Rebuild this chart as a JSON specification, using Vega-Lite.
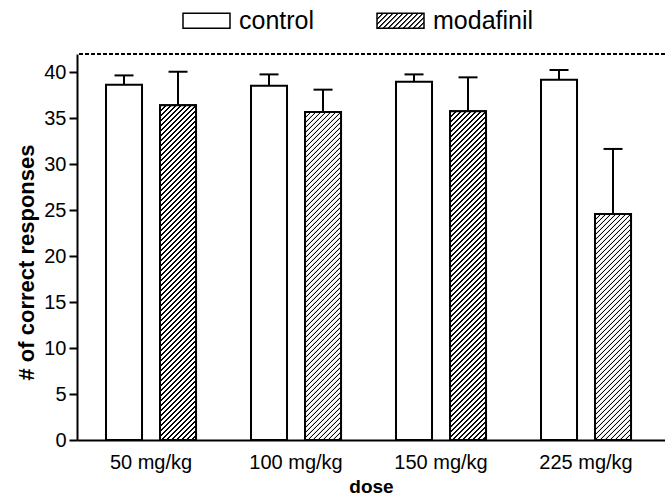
{
  "$schema": "https://vega.github.io/schema/vega-lite/v6.json",
  "width": 588,
  "height": 386,
  "autosize": {"type": "none"},
  "padding": {"left": 77, "top": 54, "right": 0, "bottom": 57},
  "config": {
    "view": {"stroke": null},
    "font": "Liberation Sans",
    "axis": {"labelColor": "black", "titleColor": "black", "domainColor": "black", "tickColor": "black", "grid": false}
  },
  "params": [
    {"name": "hatchStops", "value": [
      {"offset":0,"color":"#fff"},{"offset":0.001,"color":"#000"},{"offset":0.0032,"color":"#000"},{"offset":0.0042,"color":"#fff"},
      {"offset":0.01,"color":"#fff"},{"offset":0.011,"color":"#000"},{"offset":0.0132,"color":"#000"},{"offset":0.0142,"color":"#fff"},
      {"offset":0.02,"color":"#fff"},{"offset":0.021,"color":"#000"},{"offset":0.0232,"color":"#000"},{"offset":0.0242,"color":"#fff"},
      {"offset":0.03,"color":"#fff"},{"offset":0.031,"color":"#000"},{"offset":0.0332,"color":"#000"},{"offset":0.0342,"color":"#fff"},
      {"offset":0.04,"color":"#fff"},{"offset":0.041,"color":"#000"},{"offset":0.0432,"color":"#000"},{"offset":0.0442,"color":"#fff"},
      {"offset":0.05,"color":"#fff"},{"offset":0.051,"color":"#000"},{"offset":0.0532,"color":"#000"},{"offset":0.0542,"color":"#fff"},
      {"offset":0.06,"color":"#fff"},{"offset":0.061,"color":"#000"},{"offset":0.0632,"color":"#000"},{"offset":0.0642,"color":"#fff"},
      {"offset":0.07,"color":"#fff"},{"offset":0.071,"color":"#000"},{"offset":0.0732,"color":"#000"},{"offset":0.0742,"color":"#fff"},
      {"offset":0.08,"color":"#fff"},{"offset":0.081,"color":"#000"},{"offset":0.0832,"color":"#000"},{"offset":0.0842,"color":"#fff"},
      {"offset":0.09,"color":"#fff"},{"offset":0.091,"color":"#000"},{"offset":0.0932,"color":"#000"},{"offset":0.0942,"color":"#fff"},
      {"offset":0.10,"color":"#fff"},{"offset":0.101,"color":"#000"},{"offset":0.1032,"color":"#000"},{"offset":0.1042,"color":"#fff"},
      {"offset":0.11,"color":"#fff"},{"offset":0.111,"color":"#000"},{"offset":0.1132,"color":"#000"},{"offset":0.1142,"color":"#fff"},
      {"offset":0.12,"color":"#fff"},{"offset":0.121,"color":"#000"},{"offset":0.1232,"color":"#000"},{"offset":0.1242,"color":"#fff"},
      {"offset":0.13,"color":"#fff"},{"offset":0.131,"color":"#000"},{"offset":0.1332,"color":"#000"},{"offset":0.1342,"color":"#fff"},
      {"offset":0.14,"color":"#fff"},{"offset":0.141,"color":"#000"},{"offset":0.1432,"color":"#000"},{"offset":0.1442,"color":"#fff"},
      {"offset":0.15,"color":"#fff"},{"offset":0.151,"color":"#000"},{"offset":0.1532,"color":"#000"},{"offset":0.1542,"color":"#fff"},
      {"offset":0.16,"color":"#fff"},{"offset":0.161,"color":"#000"},{"offset":0.1632,"color":"#000"},{"offset":0.1642,"color":"#fff"},
      {"offset":0.17,"color":"#fff"},{"offset":0.171,"color":"#000"},{"offset":0.1732,"color":"#000"},{"offset":0.1742,"color":"#fff"},
      {"offset":0.18,"color":"#fff"},{"offset":0.181,"color":"#000"},{"offset":0.1832,"color":"#000"},{"offset":0.1842,"color":"#fff"},
      {"offset":0.19,"color":"#fff"},{"offset":0.191,"color":"#000"},{"offset":0.1932,"color":"#000"},{"offset":0.1942,"color":"#fff"},
      {"offset":0.20,"color":"#fff"},{"offset":0.201,"color":"#000"},{"offset":0.2032,"color":"#000"},{"offset":0.2042,"color":"#fff"},
      {"offset":0.21,"color":"#fff"},{"offset":0.211,"color":"#000"},{"offset":0.2132,"color":"#000"},{"offset":0.2142,"color":"#fff"},
      {"offset":0.22,"color":"#fff"},{"offset":0.221,"color":"#000"},{"offset":0.2232,"color":"#000"},{"offset":0.2242,"color":"#fff"},
      {"offset":0.23,"color":"#fff"},{"offset":0.231,"color":"#000"},{"offset":0.2332,"color":"#000"},{"offset":0.2342,"color":"#fff"},
      {"offset":0.24,"color":"#fff"},{"offset":0.241,"color":"#000"},{"offset":0.2432,"color":"#000"},{"offset":0.2442,"color":"#fff"},
      {"offset":0.25,"color":"#fff"},{"offset":0.251,"color":"#000"},{"offset":0.2532,"color":"#000"},{"offset":0.2542,"color":"#fff"},
      {"offset":0.26,"color":"#fff"},{"offset":0.261,"color":"#000"},{"offset":0.2632,"color":"#000"},{"offset":0.2642,"color":"#fff"},
      {"offset":0.27,"color":"#fff"},{"offset":0.271,"color":"#000"},{"offset":0.2732,"color":"#000"},{"offset":0.2742,"color":"#fff"},
      {"offset":0.28,"color":"#fff"},{"offset":0.281,"color":"#000"},{"offset":0.2832,"color":"#000"},{"offset":0.2842,"color":"#fff"},
      {"offset":0.29,"color":"#fff"},{"offset":0.291,"color":"#000"},{"offset":0.2932,"color":"#000"},{"offset":0.2942,"color":"#fff"},
      {"offset":0.30,"color":"#fff"},{"offset":0.301,"color":"#000"},{"offset":0.3032,"color":"#000"},{"offset":0.3042,"color":"#fff"},
      {"offset":0.31,"color":"#fff"},{"offset":0.311,"color":"#000"},{"offset":0.3132,"color":"#000"},{"offset":0.3142,"color":"#fff"},
      {"offset":0.32,"color":"#fff"},{"offset":0.321,"color":"#000"},{"offset":0.3232,"color":"#000"},{"offset":0.3242,"color":"#fff"},
      {"offset":0.33,"color":"#fff"},{"offset":0.331,"color":"#000"},{"offset":0.3332,"color":"#000"},{"offset":0.3342,"color":"#fff"},
      {"offset":0.34,"color":"#fff"},{"offset":0.341,"color":"#000"},{"offset":0.3432,"color":"#000"},{"offset":0.3442,"color":"#fff"},
      {"offset":0.35,"color":"#fff"},{"offset":0.351,"color":"#000"},{"offset":0.3532,"color":"#000"},{"offset":0.3542,"color":"#fff"},
      {"offset":0.36,"color":"#fff"},{"offset":0.361,"color":"#000"},{"offset":0.3632,"color":"#000"},{"offset":0.3642,"color":"#fff"},
      {"offset":0.37,"color":"#fff"},{"offset":0.371,"color":"#000"},{"offset":0.3732,"color":"#000"},{"offset":0.3742,"color":"#fff"},
      {"offset":0.38,"color":"#fff"},{"offset":0.381,"color":"#000"},{"offset":0.3832,"color":"#000"},{"offset":0.3842,"color":"#fff"},
      {"offset":0.39,"color":"#fff"},{"offset":0.391,"color":"#000"},{"offset":0.3932,"color":"#000"},{"offset":0.3942,"color":"#fff"},
      {"offset":0.40,"color":"#fff"},{"offset":0.401,"color":"#000"},{"offset":0.4032,"color":"#000"},{"offset":0.4042,"color":"#fff"},
      {"offset":0.41,"color":"#fff"},{"offset":0.411,"color":"#000"},{"offset":0.4132,"color":"#000"},{"offset":0.4142,"color":"#fff"},
      {"offset":0.42,"color":"#fff"},{"offset":0.421,"color":"#000"},{"offset":0.4232,"color":"#000"},{"offset":0.4242,"color":"#fff"},
      {"offset":0.43,"color":"#fff"},{"offset":0.431,"color":"#000"},{"offset":0.4332,"color":"#000"},{"offset":0.4342,"color":"#fff"},
      {"offset":0.44,"color":"#fff"},{"offset":0.441,"color":"#000"},{"offset":0.4432,"color":"#000"},{"offset":0.4442,"color":"#fff"},
      {"offset":0.45,"color":"#fff"},{"offset":0.451,"color":"#000"},{"offset":0.4532,"color":"#000"},{"offset":0.4542,"color":"#fff"},
      {"offset":0.46,"color":"#fff"},{"offset":0.461,"color":"#000"},{"offset":0.4632,"color":"#000"},{"offset":0.4642,"color":"#fff"},
      {"offset":0.47,"color":"#fff"},{"offset":0.471,"color":"#000"},{"offset":0.4732,"color":"#000"},{"offset":0.4742,"color":"#fff"},
      {"offset":0.48,"color":"#fff"},{"offset":0.481,"color":"#000"},{"offset":0.4832,"color":"#000"},{"offset":0.4842,"color":"#fff"},
      {"offset":0.49,"color":"#fff"},{"offset":0.491,"color":"#000"},{"offset":0.4932,"color":"#000"},{"offset":0.4942,"color":"#fff"},
      {"offset":0.50,"color":"#fff"},{"offset":0.501,"color":"#000"},{"offset":0.5032,"color":"#000"},{"offset":0.5042,"color":"#fff"},
      {"offset":0.51,"color":"#fff"},{"offset":0.511,"color":"#000"},{"offset":0.5132,"color":"#000"},{"offset":0.5142,"color":"#fff"},
      {"offset":0.52,"color":"#fff"},{"offset":0.521,"color":"#000"},{"offset":0.5232,"color":"#000"},{"offset":0.5242,"color":"#fff"},
      {"offset":0.53,"color":"#fff"},{"offset":0.531,"color":"#000"},{"offset":0.5332,"color":"#000"},{"offset":0.5342,"color":"#fff"},
      {"offset":0.54,"color":"#fff"},{"offset":0.541,"color":"#000"},{"offset":0.5432,"color":"#000"},{"offset":0.5442,"color":"#fff"},
      {"offset":0.55,"color":"#fff"},{"offset":0.551,"color":"#000"},{"offset":0.5532,"color":"#000"},{"offset":0.5542,"color":"#fff"},
      {"offset":0.56,"color":"#fff"},{"offset":0.561,"color":"#000"},{"offset":0.5632,"color":"#000"},{"offset":0.5642,"color":"#fff"},
      {"offset":0.57,"color":"#fff"},{"offset":0.571,"color":"#000"},{"offset":0.5732,"color":"#000"},{"offset":0.5742,"color":"#fff"},
      {"offset":0.58,"color":"#fff"},{"offset":0.581,"color":"#000"},{"offset":0.5832,"color":"#000"},{"offset":0.5842,"color":"#fff"},
      {"offset":0.59,"color":"#fff"},{"offset":0.591,"color":"#000"},{"offset":0.5932,"color":"#000"},{"offset":0.5942,"color":"#fff"},
      {"offset":0.60,"color":"#fff"},{"offset":0.601,"color":"#000"},{"offset":0.6032,"color":"#000"},{"offset":0.6042,"color":"#fff"},
      {"offset":0.61,"color":"#fff"},{"offset":0.611,"color":"#000"},{"offset":0.6132,"color":"#000"},{"offset":0.6142,"color":"#fff"},
      {"offset":0.62,"color":"#fff"},{"offset":0.621,"color":"#000"},{"offset":0.6232,"color":"#000"},{"offset":0.6242,"color":"#fff"},
      {"offset":0.63,"color":"#fff"},{"offset":0.631,"color":"#000"},{"offset":0.6332,"color":"#000"},{"offset":0.6342,"color":"#fff"},
      {"offset":0.64,"color":"#fff"},{"offset":0.641,"color":"#000"},{"offset":0.6432,"color":"#000"},{"offset":0.6442,"color":"#fff"},
      {"offset":0.65,"color":"#fff"},{"offset":0.651,"color":"#000"},{"offset":0.6532,"color":"#000"},{"offset":0.6542,"color":"#fff"},
      {"offset":0.66,"color":"#fff"},{"offset":0.661,"color":"#000"},{"offset":0.6632,"color":"#000"},{"offset":0.6642,"color":"#fff"},
      {"offset":0.67,"color":"#fff"},{"offset":0.671,"color":"#000"},{"offset":0.6732,"color":"#000"},{"offset":0.6742,"color":"#fff"},
      {"offset":0.68,"color":"#fff"},{"offset":0.681,"color":"#000"},{"offset":0.6832,"color":"#000"},{"offset":0.6842,"color":"#fff"},
      {"offset":0.69,"color":"#fff"},{"offset":0.691,"color":"#000"},{"offset":0.6932,"color":"#000"},{"offset":0.6942,"color":"#fff"},
      {"offset":0.70,"color":"#fff"},{"offset":0.701,"color":"#000"},{"offset":0.7032,"color":"#000"},{"offset":0.7042,"color":"#fff"},
      {"offset":0.71,"color":"#fff"},{"offset":0.711,"color":"#000"},{"offset":0.7132,"color":"#000"},{"offset":0.7142,"color":"#fff"},
      {"offset":0.72,"color":"#fff"},{"offset":0.721,"color":"#000"},{"offset":0.7232,"color":"#000"},{"offset":0.7242,"color":"#fff"},
      {"offset":0.73,"color":"#fff"},{"offset":0.731,"color":"#000"},{"offset":0.7332,"color":"#000"},{"offset":0.7342,"color":"#fff"},
      {"offset":0.74,"color":"#fff"},{"offset":0.741,"color":"#000"},{"offset":0.7432,"color":"#000"},{"offset":0.7442,"color":"#fff"}
    ]}
  ],
  "data": {"values": [
    {"dose": "50 mg/kg", "group": "control", "mean": 38.66, "upper": 39.67},
    {"dose": "50 mg/kg", "group": "modafinil", "mean": 36.41, "upper": 40.07},
    {"dose": "100 mg/kg", "group": "control", "mean": 38.55, "upper": 39.78},
    {"dose": "100 mg/kg", "group": "modafinil", "mean": 35.7, "upper": 38.12},
    {"dose": "150 mg/kg", "group": "control", "mean": 38.99, "upper": 39.78},
    {"dose": "150 mg/kg", "group": "modafinil", "mean": 35.76, "upper": 39.46},
    {"dose": "225 mg/kg", "group": "control", "mean": 39.2, "upper": 40.26},
    {"dose": "225 mg/kg", "group": "modafinil", "mean": 24.6, "upper": 31.67}
  ]},
  "layer": [
    {
      "encoding": {
        "x": {
          "field": "dose", "type": "nominal", "sort": null,
          "scale": {"paddingInner": 0, "paddingOuter": 0.0276, "align": 0.19},
          "axis": {"title": "dose", "ticks": false, "labelAngle": 0, "labelFontSize": 20, "labelPadding": 12, "titleFontSize": 19, "titleFontWeight": "bold", "titlePadding": 5, "domainWidth": 2}
        },
        "xOffset": {
          "field": "group", "type": "nominal", "sort": ["control", "modafinil"],
          "scale": {"paddingInner": 0.3333, "paddingOuter": 0.509}
        }
      },
      "layer": [
        {
          "mark": {"type": "bar", "stroke": "black", "strokeWidth": 2},
          "encoding": {
            "y": {
              "field": "mean", "type": "quantitative",
              "scale": {"domain": [0, 42], "nice": false, "zero": true},
              "axis": {"title": "# of correct responses", "values": [0, 5, 10, 15, 20, 25, 30, 35, 40], "tickSize": 8, "tickWidth": 2, "domainWidth": 2, "labelFontSize": 20, "labelPadding": 3, "titleFontSize": 22, "titleFontWeight": "bold", "titlePadding": 5, "titleY": 208}
            },
            "fill": {
              "field": "group", "type": "nominal", "sort": ["control", "modafinil"],
              "scale": {"range": ["#fff", {"expr": "{gradient: 'linear', x1: 0, y1: 0, x2: 9.6549, y2: 3.0813, stops: hatchStops}"}]},
              "legend": {
                "title": null, "orient": "none", "legendX": 105, "legendY": -58, "direction": "horizontal",
                "padding": 0,
                "symbolType": "M-1,-0.32H1V0.32H-1Z", "symbolSize": 2209,
                "symbolStrokeColor": "black", "symbolStrokeWidth": 1.5, "symbolOpacity": 1,
                "labelFontSize": 25, "labelOffset": 8, "columnPadding": 59, "labelColor": "black",
                "encode": {"symbols": {"update": {
                  "stroke": {"value": "black"},
                  "strokeWidth": {"value": 1.5},
                  "opacity": {"value": 1},
                  "fillOpacity": {"value": 1},
                  "strokeOpacity": {"value": 1}
                }}}
              }
            }
          }
        },
        {
          "transform": [{"filter": "datum.group === 'modafinil'"}],
          "mark": {
            "type": "bar", "stroke": "black", "strokeWidth": 2,
            "fill": {"expr": "{gradient: 'linear', x1: 0, y1: 0, x2: 18000 / (1296 + pow(datum.mean * 9.1905, 2)), y2: 500 * datum.mean * 9.1905 / (1296 + pow(datum.mean * 9.1905, 2)), stops: hatchStops}"}
          },
          "encoding": {"y": {"field": "mean", "type": "quantitative"}}
        },
        {
          "mark": {"type": "rule", "color": "black", "strokeWidth": 2},
          "encoding": {
            "y": {"field": "mean", "type": "quantitative"},
            "y2": {"field": "upper"}
          }
        },
        {
          "mark": {"type": "tick", "color": "black", "thickness": 2, "size": 19, "opacity": 1},
          "encoding": {"y": {"field": "upper", "type": "quantitative"}}
        }
      ]
    },
    {
      "mark": {"type": "rule", "color": "black", "strokeWidth": 1.3, "strokeDash": [4, 2]},
      "encoding": {"y": {"datum": 42, "type": "quantitative"}}
    }
  ]
}
